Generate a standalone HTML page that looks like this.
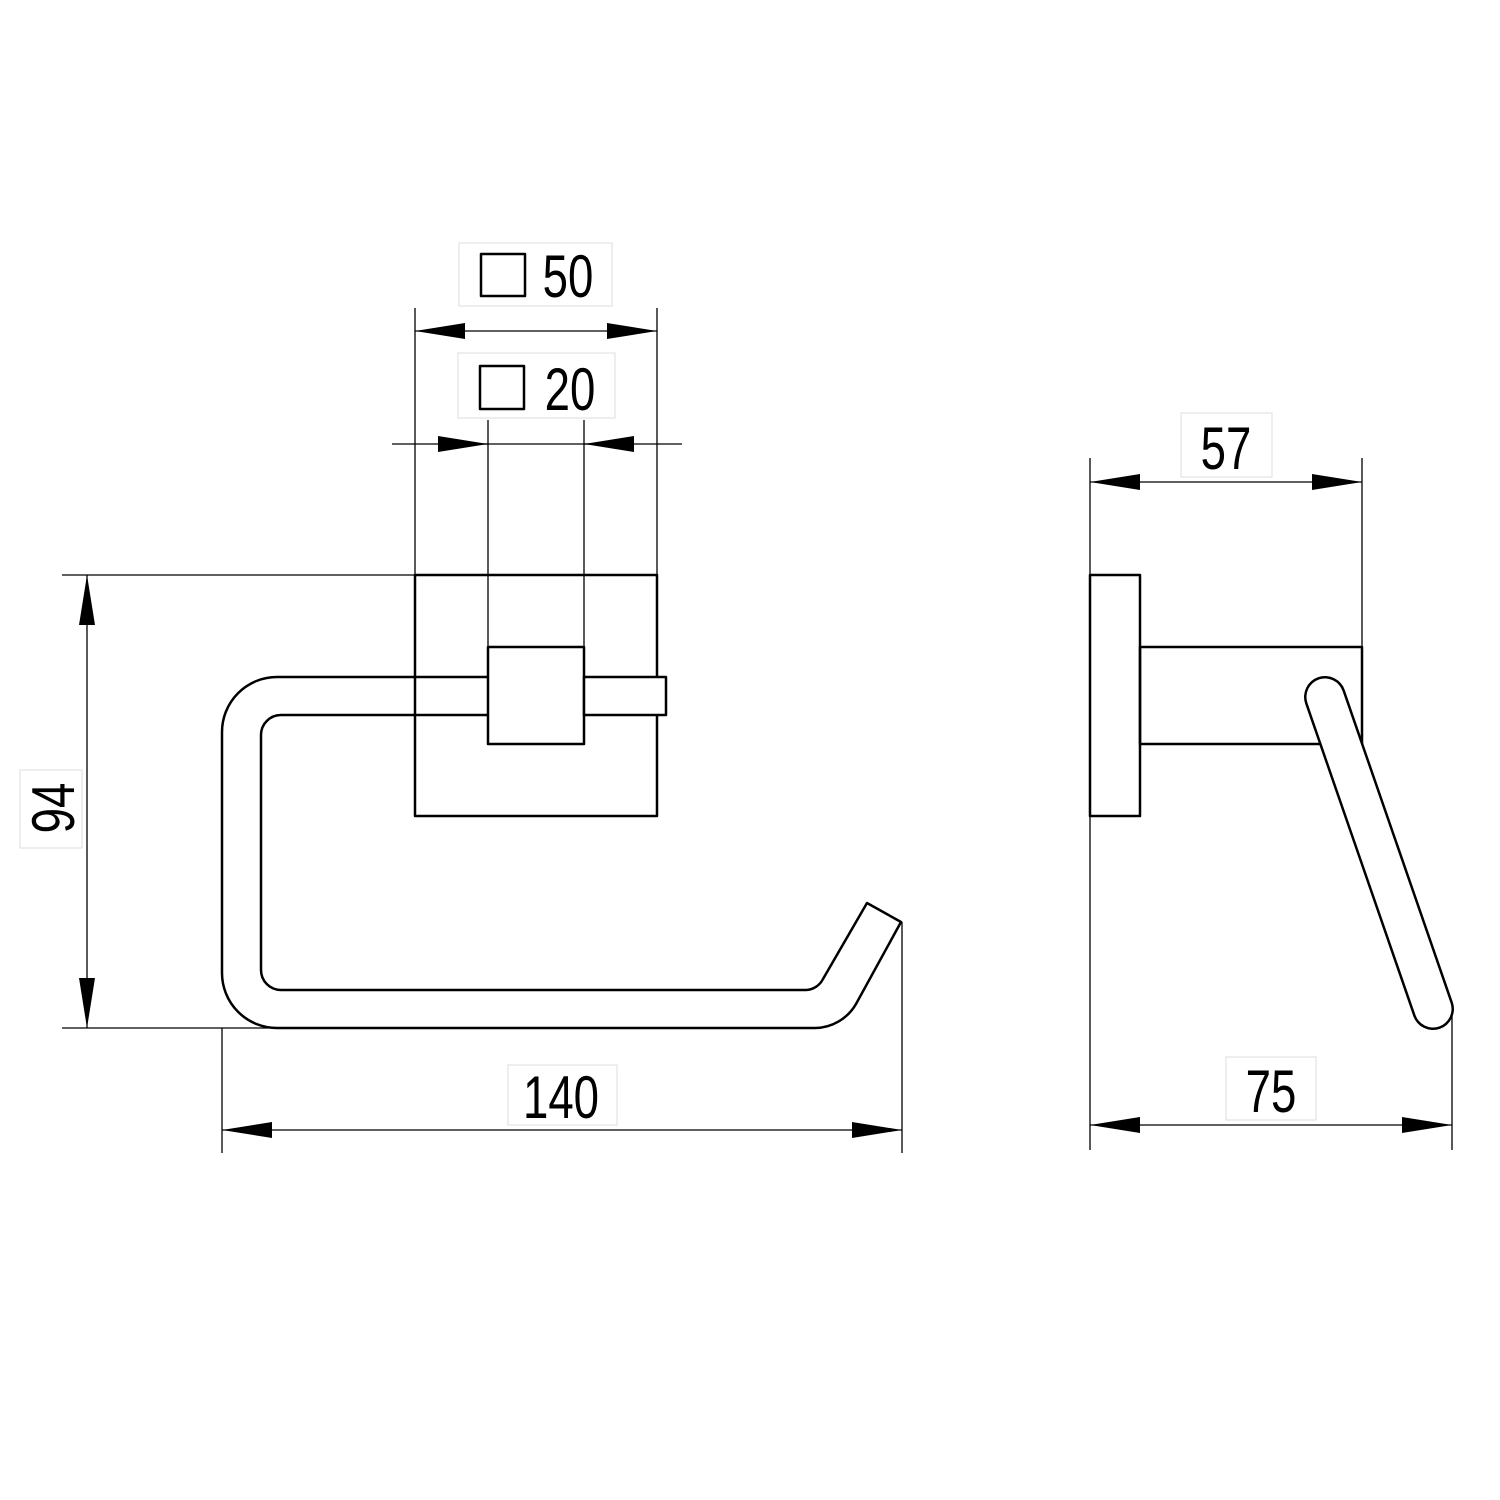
<!DOCTYPE html>
<html><head><style>
html,body{margin:0;padding:0;background:#fff;width:1500px;height:1500px;overflow:hidden}
svg{display:block}
text{font-family:"Liberation Sans",sans-serif;font-size:60px;fill:#000;text-anchor:middle}
</style></head><body>
<svg width="1500" height="1500" viewBox="0 0 1500 1500" xmlns="http://www.w3.org/2000/svg">
<defs>
<marker id="a" viewBox="0 0 50 16" refX="50" refY="8" markerWidth="50" markerHeight="16" markerUnits="userSpaceOnUse" orient="auto-start-reverse"><path d="M0,0 L50,8 L0,16 Z" fill="#000"/></marker>
</defs>
<g fill="none" stroke="#000">
<g stroke="#ddd" stroke-width="1" fill="#fff">
<rect x="459" y="243" width="153" height="63"/>
<rect x="458" y="353" width="157" height="65"/>
<rect x="20" y="770" width="62" height="78"/>
<rect x="508" y="1065" width="109" height="60"/>
<rect x="1181" y="413" width="91" height="64"/>
<rect x="1226" y="1057" width="90" height="63"/>
</g>
<g stroke-width="1.3">
<line x1="415" y1="308" x2="415" y2="575"/>
<line x1="657" y1="308" x2="657" y2="575"/>
<line x1="488" y1="420" x2="488" y2="647"/>
<line x1="584" y1="420" x2="584" y2="647"/>
<line x1="62" y1="575" x2="415" y2="575"/>
<line x1="62" y1="1028" x2="270" y2="1028"/>
<line x1="222" y1="1028" x2="222" y2="1153"/>
<line x1="902" y1="922" x2="902" y2="1153"/>
<line x1="1090" y1="458" x2="1090" y2="575"/>
<line x1="1362" y1="458" x2="1362" y2="647"/>
<line x1="1090" y1="816" x2="1090" y2="1150"/>
<line x1="1452" y1="1005" x2="1452" y2="1150"/>
<line x1="415" y1="331" x2="657" y2="331" marker-start="url(#a)" marker-end="url(#a)"/>
<line x1="392" y1="444" x2="682" y2="444"/>
<line x1="438" y1="444" x2="488" y2="444" marker-end="url(#a)"/>
<line x1="634" y1="444" x2="584" y2="444" marker-end="url(#a)"/>
<line x1="87" y1="575" x2="87" y2="1028" marker-start="url(#a)" marker-end="url(#a)"/>
<line x1="222" y1="1130" x2="902" y2="1130" marker-start="url(#a)" marker-end="url(#a)"/>
<line x1="1090" y1="482" x2="1362" y2="482" marker-start="url(#a)" marker-end="url(#a)"/>
<line x1="1090" y1="1125" x2="1452" y2="1125" marker-start="url(#a)" marker-end="url(#a)"/>
</g>
<g stroke-width="2.5" stroke-linejoin="round">
<rect x="415" y="575" width="242" height="241"/>
<rect x="488" y="647" width="96" height="97" fill="#fff"/>
<rect x="584" y="677" width="82" height="38" fill="#fff"/>
<path d="M488,677 H277 A55,55 0 0 0 222,732 V973 A55,55 0 0 0 277,1028 H815 A48,48 0 0 0 856,1004 L901,922 L867,903 L823,979 A20,20 0 0 1 806,990 H281 A20,20 0 0 1 261,970 V735 A20,20 0 0 1 281,715 H488"/>
<rect x="1090" y="575" width="50" height="241"/>
<rect x="1140" y="647" width="222" height="97"/>
<line x1="1325" y1="697" x2="1433" y2="1009" stroke-width="42" stroke-linecap="round"/>
<line x1="1325" y1="697" x2="1433" y2="1009" stroke="#fff" stroke-width="37" stroke-linecap="round"/>
<rect x="481" y="254" width="44" height="42"/>
<rect x="480" y="366" width="44" height="43"/>
</g>
</g>
<g>
<text transform="translate(568,297) scale(0.76,1)">50</text>
<text transform="translate(570,410) scale(0.76,1)">20</text>
<text transform="translate(561,1118) scale(0.76,1)">140</text>
<text transform="translate(1226,469) scale(0.76,1)">57</text>
<text transform="translate(1271,1112) scale(0.76,1)">75</text>
<text transform="translate(74,808) rotate(-90) scale(0.76,1)">94</text>
</g>
</svg>
</body></html>
